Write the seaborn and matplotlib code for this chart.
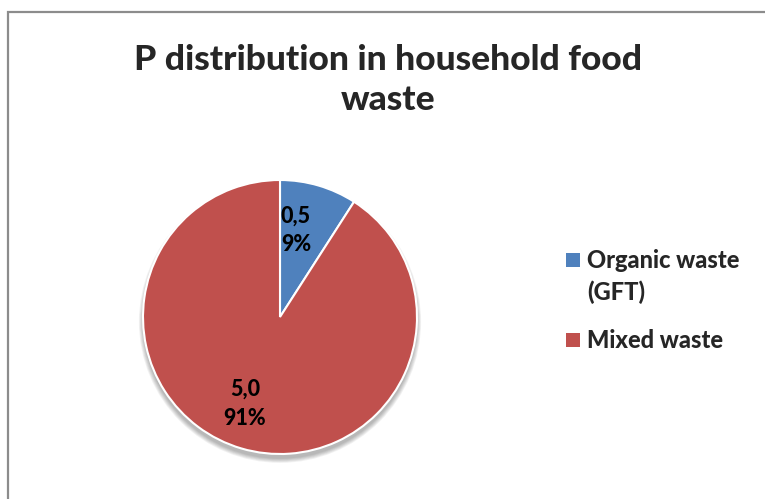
import matplotlib
matplotlib.use("Agg")
import matplotlib.pyplot as plt
import seaborn as sns
from matplotlib.patches import Rectangle, Circle

categories = ["Organic waste\n(GFT)", "Mixed waste"]
values = [0.5, 5.0]
colors = ["#4F81BD", "#C0504D"]
title = "P distribution in household food\nwaste"

sns.set_theme(style="white")
plt.rcParams['font.family'] = ['Lato', 'DejaVu Sans']

W, H = 765, 499
fig = plt.figure(figsize=(W / 100, H / 100), dpi=100)
fig.patch.set_facecolor("white")

# frame (partially cropped like the reference)
fig.patches.append(Rectangle((8 / W, -0.1), 1.2, 1 - 12 / H + 0.1, transform=fig.transFigure,
                             fill=False, edgecolor="#8c8c8c", linewidth=1.6))

cx, cy, r = 280, 317, 137
pad = 12
ax = fig.add_axes([(cx - r - pad) / W, (H - cy - r - pad) / H, 2 * (r + pad) / W, 2 * (r + pad) / H])
total = sum(values)


def fmt(p):
    v = p * total / 100
    return f"{v:.1f}".replace(".", ",") + f"\n{p:.0f}%"


# soft shadow
for k in range(6):
    ax.add_patch(Circle((0, -0.035), 1.0 + 0.006 * k, color="black", alpha=0.05, lw=0, zorder=0))

wedges, texts, autotexts = ax.pie(values, colors=colors, startangle=90, counterclock=False,
                                  autopct=fmt, pctdistance=0.66,
                                  wedgeprops=dict(edgecolor="white", linewidth=1.5, zorder=2),
                                  textprops=dict(fontsize=15.5, fontweight="black", color="black",
                                                 linespacing=1.45, zorder=3))
for t in autotexts:
    x, y = t.get_position()
    t.set_position((x - 0.07, y))
lim = (r + pad) / r
ax.set_xlim(-lim, lim)
ax.set_ylim(-lim, lim)
ax.set_aspect("auto")
ax.axis("off")

fig.text(388 / W, 1 - 80 / H, title, ha="center", va="center", fontsize=25.5,
         fontweight="black", linespacing=1.28)

# legend
leg_rows = [(260, 0), (340, 1)]
for ypix, i in leg_rows:
    fig.patches.append(Rectangle((566 / W, 1 - (ypix + 7) / H), 14 / W, 14 / H,
                                 transform=fig.transFigure, facecolor=wedges[i].get_facecolor(),
                                 edgecolor="none"))
    fig.text(587 / W, 1 - (ypix - 11) / H, categories[i], ha="left", va="top", fontsize=17,
             fontweight="black", linespacing=1.45)

fig.savefig("out.png", dpi=100, facecolor="white")
